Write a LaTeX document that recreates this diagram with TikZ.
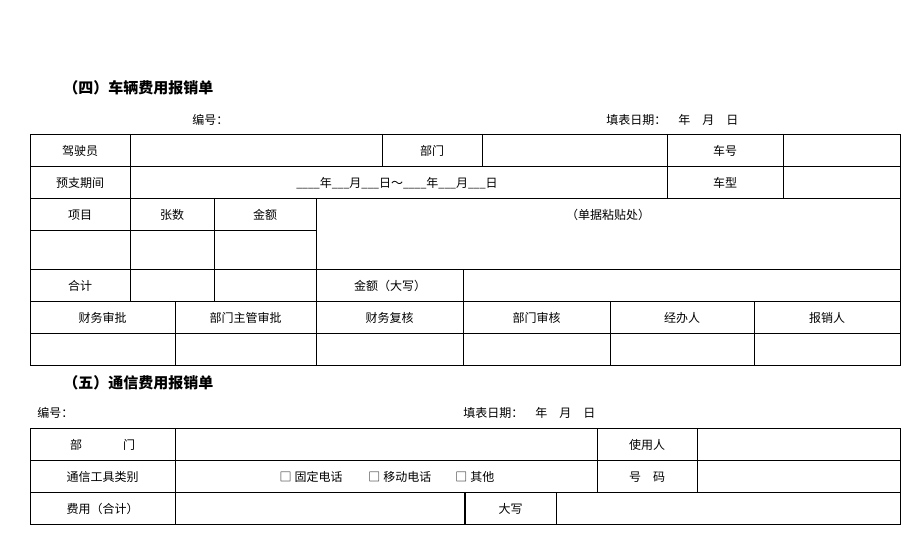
\documentclass[tikz,border=0pt]{standalone}
\usepackage{fontspec}
\setmainfont{Noto Sans CJK SC}
\newcommand{\blankline}[1]{{\fontsize{10.5}{12}\selectfont #1}}
\begin{document}
\begin{tikzpicture}[x=1pt,y=-1pt,line width=0.9pt,
  cell/.style={inner sep=0pt,font=\fontsize{12}{14}\selectfont},
  lab/.style={cell,anchor=west},
  ttl/.style={inner sep=0pt,anchor=west,font=\fontsize{15}{18}\selectfont\bfseries}]
\useasboundingbox[fill=white] (0,0) rectangle (907,559);

% ---------- Table 4 ----------
\node[ttl] (t4) at (63,88) {（四）车辆费用报销单};
\node[lab] (no4) at (192,120) {编号：};
\node[lab] (dt4) at (606,120) {填表日期：\hspace{12pt}年\hspace{12pt}月\hspace{12pt}日};

\draw (30,134) rectangle (900,365);
\foreach \y in {166,198,269,301,333} \draw (30,\y) -- (900,\y);
\draw (30,230) -- (316,230);
\draw (130,134) -- (130,301);
\draw (382,134) -- (382,166);
\draw (482,134) -- (482,166);
\draw (667,134) -- (667,198);
\draw (783,134) -- (783,198);
\draw (214,198) -- (214,301);
\draw (316,198) -- (316,365);
\draw (463,269) -- (463,365);
\draw (175,301) -- (175,365);
\draw (610,301) -- (610,365);
\draw (754,301) -- (754,365);

\node[cell] (a1) at (80,151) {驾驶员};
\node[cell] (a2) at (432,151) {部门};
\node[cell] (a3) at (725,151) {车号};
\node[cell] (b1) at (80,183) {预支期间};
\node[cell] (b2) at (397,183) {\blankline{\_\_\_\_}年\blankline{\_\_\_}月\blankline{\_\_\_}日～\blankline{\_\_\_\_}年\blankline{\_\_\_}月\blankline{\_\_\_}日};
\node[cell] (b3) at (725,183) {车型};
\node[cell] (c1) at (80,215) {项目};
\node[cell] (c2) at (172,215) {张数};
\node[cell] (c3) at (265,215) {金额};
\node[cell] (c4) at (608,215) {（单据粘贴处）};
\node[cell] (d1) at (80,286) {合计};
\node[cell] (d2) at (390,286) {金额（大写）};
\node[cell] (e1) at (102.5,318) {财务审批};
\node[cell] (e2) at (245.5,318) {部门主管审批};
\node[cell] (e3) at (389.5,318) {财务复核};
\node[cell] (e4) at (536.5,318) {部门审核};
\node[cell] (e5) at (682,318) {经办人};
\node[cell] (e6) at (827,318) {报销人};

% ---------- Table 5 ----------
\node[ttl] (t5) at (63,383) {（五）通信费用报销单};
\node[lab] (no5) at (37,413) {编号：};
\node[lab] (dt5) at (463,413) {填表日期：\hspace{12pt}年\hspace{12pt}月\hspace{12pt}日};

\draw (30,428) rectangle (900,524);
\draw (30,460) -- (900,460);
\draw (30,492) -- (900,492);
\draw (175,428) -- (175,524);
\draw (597,428) -- (597,492);
\draw (697,428) -- (697,492);
\draw[line width=1.8pt] (465,492) -- (465,524);
\draw (556,492) -- (556,524);

\node[cell] (f1) at (102.5,445) {部\hspace{41pt}门};
\node[cell] (f2) at (647,445) {使用人};
\node[cell] (g1) at (102.5,477) {通信工具类别};
\node[cell] (g2) at (387,477) {□\hspace{3pt}固定电话\hspace{26pt}□\hspace{3pt}移动电话\hspace{24pt}□\hspace{3pt}其他};
\node[cell] (g3) at (647,477) {号\hspace{12pt}码};
\node[cell] (h1) at (102.5,509) {费用（合计）};
\node[cell] (h2) at (510.5,509) {大写};
\end{tikzpicture}
\end{document}
